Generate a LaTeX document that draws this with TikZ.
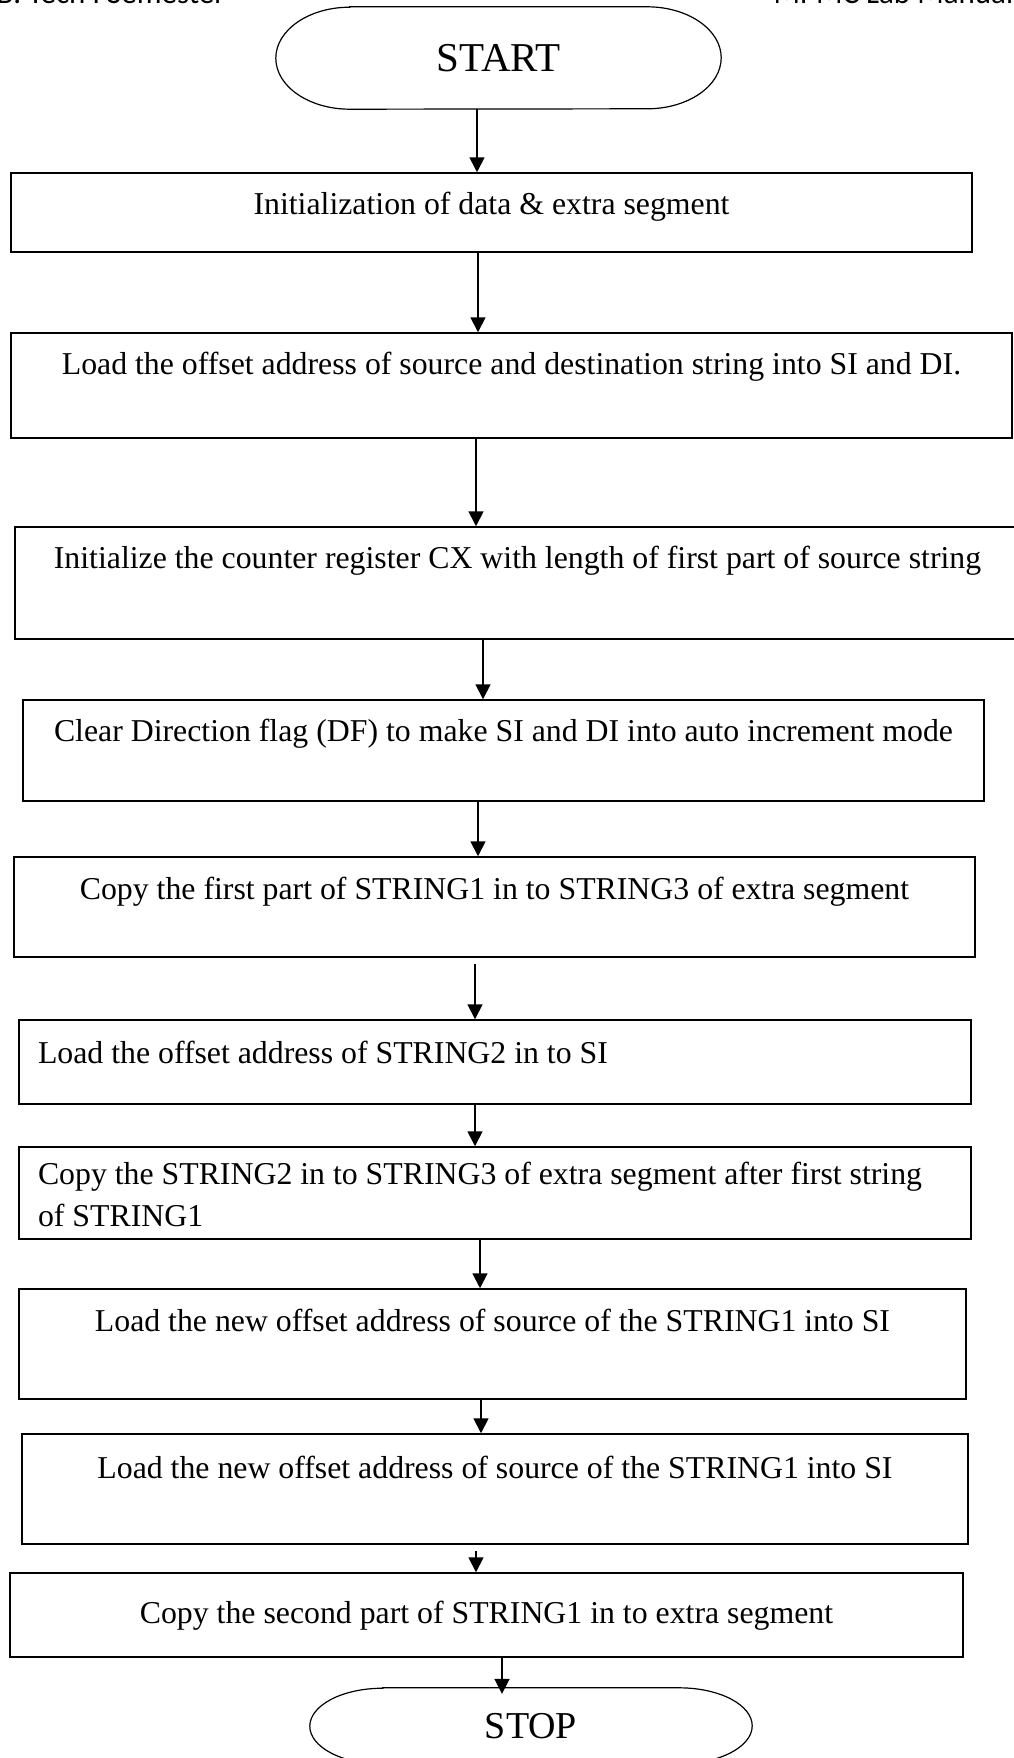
\documentclass[tikz,border=0pt]{standalone}
\usepackage{fontspec}
\setmainfont{Liberation Serif}
\newfontfamily\headfont{Carlito}
\usetikzlibrary{arrows.meta}

\begin{document}
\begin{tikzpicture}[x=1pt,y=-1pt,
  procbox/.style={draw, line width=1.5pt, inner sep=0pt, font=\fontsize{31.8}{42}\selectfont},
  leftbox/.style={procbox, inner xsep=19pt, align=flush left},
  term/.style={inner sep=0pt},
  flow/.style={line width=1.8pt, -{Triangle[width=15pt,length=15pt]}}]

\useasboundingbox (0,0) rectangle (1013,1758);

% Page header (cut at the top edge)
\node (hdl) [anchor=base west, font=\headfont\fontsize{31}{36}\selectfont] at (-7,4) {B. Tech I Semester};
\node (hdr) [anchor=base west, font=\headfont\fontsize{31}{36}\selectfont] at (770,4) {MPMC Lab Manual};

% Start terminal
\node (start) [term, minimum width=445, minimum height=102, font=\fontsize{41}{48}\selectfont] at (498.5,58) {START};
\draw [line width=1.2pt] ([xshift=74]start.north west) -- ([xshift=-74]start.north east)
  arc [start angle=-90, end angle=90, x radius=74, y radius=51]
  -- ([xshift=74]start.south west)
  arc [start angle=90, end angle=270, x radius=74, y radius=51] -- cycle;

% Process boxes
\node (b1) [procbox, minimum width=961, text height=41pt, text depth=38pt] at (491.5,212.5) {Initialization of data \& extra segment};
\node (b2) [procbox, minimum width=1001, text height=41pt, text depth=64pt] at (511.5,385.5) {Load the offset address of source and destination string into SI and DI.};
\node (b3) [procbox, minimum width=1005, text height=41pt, text depth=71pt] at (517.5,583) {Initialize the counter register CX with length of first part of source string};
\node (b4) [procbox, minimum width=961, text height=41pt, text depth=60pt] at (503.5,750.5) {Clear Direction flag (DF) to make SI and DI into auto increment mode};
\node (b5) [procbox, minimum width=961, text height=42pt, text depth=58pt] at (494.5,907) {Copy the first part of STRING1 in to STRING3 of extra segment};
\node (b6) [leftbox, text width=914, text height=43pt, text depth=41pt] at (495,1062) {Load the offset address of STRING2 in to SI};
\node (b7) [leftbox, text width=914, text height=37pt, text depth=55pt] at (495,1193) {Copy the STRING2 in to STRING3 of extra segment after first string\\of STRING1};
\node (b8) [procbox, minimum width=947, text height=42pt, text depth=68pt] at (492.5,1344) {Load the new offset address of source of the STRING1 into SI};
\node (b9) [procbox, minimum width=946, text height=44pt, text depth=66pt] at (495,1489) {Load the new offset address of source of the STRING1 into SI};
\node (b10) [procbox, minimum width=953, text height=50pt, text depth=34pt] at (486.5,1615) {Copy the second part of STRING1 in to extra segment};

% Stop terminal
\node (stop) [term, minimum width=442, minimum height=76, font=\fontsize{38}{44}\selectfont] at (531,1726) {STOP};
\draw [line width=1.2pt] ([xshift=73]stop.north west) -- ([xshift=-73]stop.north east)
  arc [start angle=-90, end angle=90, x radius=73, y radius=38]
  -- ([xshift=73]stop.south west)
  arc [start angle=90, end angle=270, x radius=73, y radius=38] -- cycle;

% Flow arrows
\draw [flow] (477,0 |- start.south) -- (477,0 |- b1.north);
\draw [flow] (478,0 |- b1.south) -- (478,0 |- b2.north);
\draw [flow] (476,0 |- b2.south) -- (476,0 |- b3.north);
\draw [flow] (483,0 |- b3.south) -- (483,0 |- b4.north);
\draw [flow] (478,0 |- b4.south) -- (478,0 |- b5.north);
\draw [flow, shorten <=6pt] (475,0 |- b5.south) -- (475,0 |- b6.north);
\draw [flow] (475,0 |- b6.south) -- (475,0 |- b7.north);
\draw [flow] (480,0 |- b7.south) -- (480,0 |- b8.north);
\draw [flow] (481,0 |- b8.south) -- (481,0 |- b9.north);
\draw [flow, shorten <=6pt] (476,0 |- b9.south) -- (476,0 |- b10.north);
\draw [flow, shorten >=-6pt] (502,0 |- b10.south) -- (502,0 |- stop.north);

\end{tikzpicture}
\end{document}
